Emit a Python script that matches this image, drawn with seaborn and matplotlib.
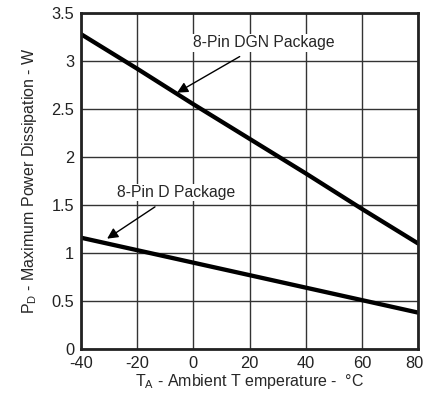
import pandas as pd
import matplotlib
matplotlib.use("Agg")
import matplotlib.pyplot as plt
import matplotlib.transforms as mtransforms
import seaborn as sns

# data
temps = [-40, -20, 0, 20, 40, 60, 80]
dgn_power = [3.28, 2.92, 2.55, 2.19, 1.83, 1.46, 1.10]
d_power = [1.16, 1.03, 0.90, 0.77, 0.64, 0.51, 0.38]
packages = ["8-Pin DGN Package", "8-Pin D Package"]

df = pd.DataFrame({
    "temp": temps * 2,
    "power": dgn_power + d_power,
    "package": [packages[0]] * len(temps) + [packages[1]] * len(temps),
})

sns.set_style("white")
plt.rcParams["font.family"] = ["Liberation Sans", "DejaVu Sans"]
plt.rcParams["mathtext.default"] = "regular"
plt.rcParams["axes.unicode_minus"] = False

fig = plt.figure(figsize=(4.24, 3.94), dpi=100)
ax = fig.add_axes([0.191, 0.114, 0.795, 0.853])

sns.lineplot(data=df, x="temp", y="power", hue="package",
             palette=["black", "black"], linewidth=3.1, legend=False, ax=ax)

ax.set_xlim(-40, 80)
ax.set_ylim(0, 3.5)
ax.set_xticks([-40, -20, 0, 20, 40, 60, 80])
ax.set_yticks([0, 0.5, 1, 1.5, 2, 2.5, 3, 3.5])
ax.set_yticklabels(["0", "0.5", "1", "1.5", "2", "2.5", "3", "3.5"])
ax.grid(True, color="#333333", linewidth=1)
ax.set_axisbelow(True)
ax.tick_params(length=0, labelsize=11.8, pad=5, colors="#222222")
for s in ax.spines.values():
    s.set_linewidth(2)
    s.set_color("#222222")

# nudge the last x label so it stays inside the image
last = ax.get_xticklabels()[-1]
last.set_transform(last.get_transform() +
                   mtransforms.ScaledTranslation(-0.04, 0, fig.dpi_scale_trans))

ax.set_xlabel("T$_A$ - Ambient T emperature -  °C", fontsize=11.5, labelpad=1)
ax.set_ylabel("P$_D$ - Maximum Power Dissipation - W", fontsize=11.5, labelpad=9)

box = dict(facecolor="white", edgecolor="none", pad=1)
ax.annotate(packages[0], xy=(-5.8, 2.67), xytext=(25, 3.19),
            ha="center", va="center", fontsize=11.3, bbox=box,
            arrowprops=dict(arrowstyle="-|>", color="black", lw=1,
                            mutation_scale=16, shrinkA=7, shrinkB=0))
ax.annotate(packages[1], xy=(-30.7, 1.15), xytext=(-6, 1.63),
            ha="center", va="center", fontsize=11.3, bbox=box,
            arrowprops=dict(arrowstyle="-|>", color="black", lw=1,
                            mutation_scale=16, shrinkA=7, shrinkB=0))

fig.savefig("out.png", dpi=100)
